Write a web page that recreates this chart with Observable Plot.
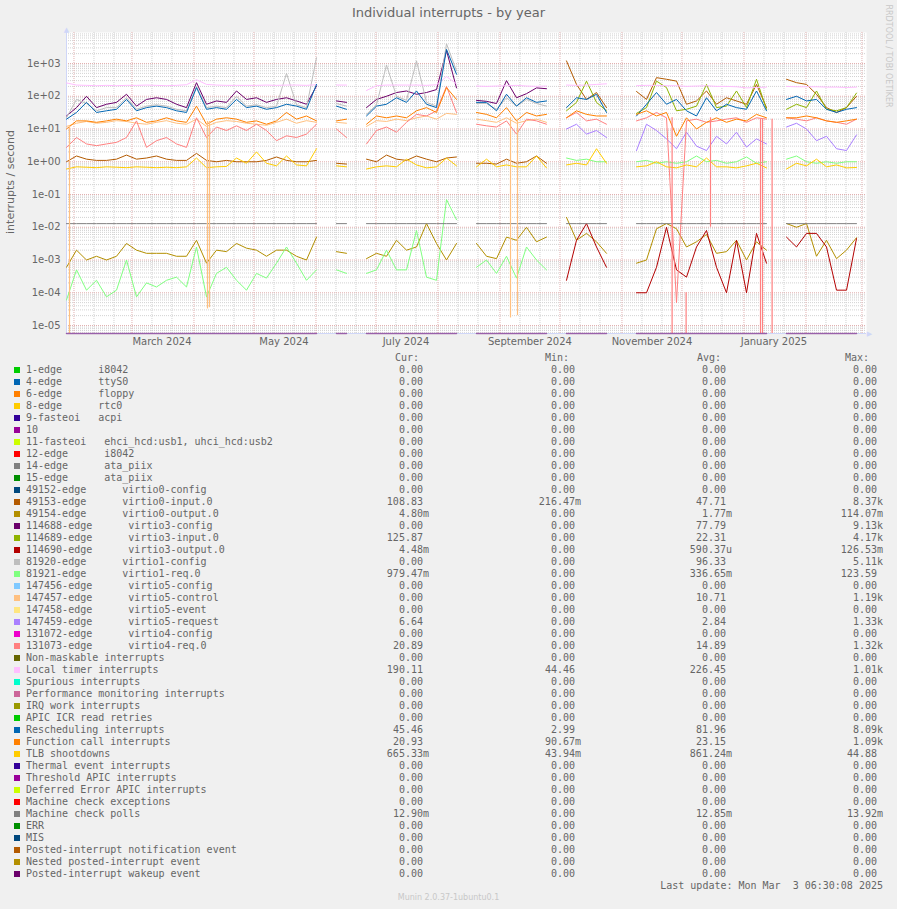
<!DOCTYPE html>
<html><head><meta charset="utf-8">
<script src="https://cdn.jsdelivr.net/npm/d3@7"></script>
<script src="https://cdn.jsdelivr.net/npm/@observablehq/plot@0.6"></script>
<style>
html,body{margin:0;padding:0;background:#f0f0f0;}
#wrap{position:relative;width:897px;height:909px;background:#f0f0f0;overflow:hidden;font-family:"DejaVu Sans",sans-serif;color:#666;}
.abs{position:absolute;white-space:pre;}
.mono{font-family:"DejaVu Sans Mono",monospace;font-size:10px;line-height:12px;color:#666;}
</style></head><body><div id="wrap"></div>
<script>
const _ = null;
// time axis: samples every 5 days from the graph start
const startTime = Date.UTC(2024, 0, 28, 6, 30);
const endTime = Date.UTC(2025, 2, 3, 6, 30);
const stepDays = 5;
const sampleCount = 81;

// series values (interrupts / second), null = no data
const s49153 = [1.0,1.5,1.2,1.1,1.1,1.2,1.6,1.2,1.3,1.5, 1.2,1.1,1.1,1.8,1.1,1.0,1.1,1.0,1.0,1.0, 1.1,1.4,1.1,1.0,1.0,1.1,_,0.9,0.85,_, 1.2,1.0,1.6,1.2,1.1,1.5,1.2,1.0,1.3,1.4, _,0.9,0.9,0.85,1.2,0.9,1.0,1.5,0.9,_, 1200,230,80,130,45,_,_,140,80,370, 330,290,57,72,145,57,90,72,57,230, 45,_,330,260,230,115,45,32,45,100,_];
const s49154 = [6e-4,2e-3,1e-3,1.3e-3,1e-3,1.3e-3,3.2e-3,2e-3,1.6e-3,1.6e-3, 1.6e-3,1.3e-3,1.3e-3,4e-3,8e-4,2e-3,1.8e-3,3.2e-3,2.3e-3,2e-3, 1.3e-3,2e-3,2e-3,1.3e-3,1e-3,5e-3,_,1.8e-3,1.6e-3,_, 1.1e-3,1.6e-3,1.3e-3,4e-3,2e-3,2.5e-3,1.3e-2,3.2e-3,1e-3,3.2e-3, _,3.2e-3,1.3e-3,1.1e-3,5e-3,4e-3,1e-2,3.6e-3,5e-3,_, 2e-2,4e-3,6.5e-3,3.6e-3,1.6e-3,_,_,8e-4,1e-3,9e-3, 1.3e-2,9e-3,2.5e-3,3.6e-3,6e-3,1.6e-3,1.8e-3,4e-3,1e-3,3.6e-3, 2e-3,_,1.3e-2,1e-2,1.3e-2,1.3e-3,4e-3,1.1e-3,2e-3,4.8e-3,_];
const s114688 = [25,45,100,45,57,65,115,50,80,90, 80,57,45,260,57,72,65,145,80,90, 65,80,90,72,57,205,_,72,65,_, 45,80,100,130,145,115,130,160,2500,180, _,75,70,60,300,90,120,180,170,_, _,_,_,_,_,_,_,_,_,_, _,_,_,_,_,_,_,_,_,_, _,_,_,_,_,_,_,_,_,_,_];
const s114689 = [_,_,_,_,_,_,_,_,_,_, _,_,_,_,_,_,_,_,_,_, _,_,_,_,_,_,_,_,_,_, _,_,_,_,_,_,_,_,_,_, _,_,_,_,_,_,_,_,_,_, 36,65,290,65,36,_,_,30,45,290, 184,36,40,50,230,45,50,145,45,330, 40,_,40,57,45,145,40,36,45,125,_];
const s114690 = [_,_,_,_,_,_,_,_,_,_, _,_,_,_,_,_,_,_,_,_, _,_,_,_,_,_,_,_,_,_, _,_,_,_,_,_,_,_,_,_, _,_,_,_,_,_,_,_,_,_, 2.4e-4,4e-3,1.3e-2,2.5e-3,6e-4,_,_,1e-4,1e-4,6e-4, 1e-2,5e-4,3e-4,2.5e-3,8e-3,6e-4,1e-4,4e-3,1e-4,6.5e-3, 8e-4,_,5e-3,2.5e-3,6.5e-3,6.5e-3,2.5e-3,1.2e-4,1.2e-4,4.5e-3,_];
const s81920 = [22,80,60,36,45,45,90,40,50,55, 50,40,36,200,45,50,45,100,50,55, 45,50,500,55,45,1500,_,60,50,_, 28,55,900,100,75,1200,65,50,4000,600, _,60,60,40,90,50,80,60,50,_, _,_,_,_,_,_,_,_,_,_, _,_,_,_,_,_,_,_,_,_, _,_,_,_,_,_,_,_,_,_,_];
const s81921 = [6e-5,5e-4,1.2e-4,2.4e-4,7.5e-5,1.2e-4,1e-3,7.5e-5,2e-4,1.5e-4, 2.4e-4,3e-4,1.5e-4,2.5e-3,7.5e-5,3.9e-4,6e-4,2.4e-4,1.2e-4,3.9e-4, 2.8e-4,8e-4,2.5e-3,8e-4,2.4e-4,5e-4,_,5e-4,3.9e-4,_, 3.9e-4,5e-4,2e-3,5e-4,5e-4,8e-3,3e-4,2.4e-4,7e-2,1.7e-2, _,6e-4,1e-3,3.9e-4,1.3e-3,2.8e-4,2.5e-3,1e-3,5e-4,_, 1.3,1.1,1.2,1.0,1.0,_,_,1.0,1.1,0.9, 1.0,0.9,1.0,1.5,1.0,1.1,0.9,1.0,1.4,0.9, 1.0,_,1.2,1.5,1.0,0.9,1.0,0.9,1.0,1.0,_];
const s147457 = [12,15,17,15,16,18,17,15,14,16, 18,15,14,20,12,16,18,17,15,14, 13,16,20,15,18,16,_,16,15,_, 12,18,17,20,18,22,25,20,30,28, _,20,18,16,22,15,18,20,16,_, _,_,_,_,_,_,_,_,_,_, _,_,_,_,_,_,_,_,_,_, _,_,_,_,_,_,_,_,_,_,_];
const s147459 = [_,_,_,_,_,_,_,_,_,_, _,_,_,_,_,_,_,_,_,_, _,_,_,_,_,_,_,_,_,_, _,_,_,_,_,_,_,_,_,_, _,_,_,_,_,_,_,_,_,_, 10,14,7,9,5.5,_,_,2.2,14,9, 5,2.5,8,3,2.2,6,3.5,8,2.8,5, 3.5,_,11.5,15,10,4.4,6,2.5,2.2,6.6,_];
const s131073 = [2.75,5.5,3.5,3.1,3.5,3.9,5.5,17.7,2.75,4.4, 5.5,3.5,2.75,22,5.5,11.5,9,12.5,9,14, 9,4.4,6.2,5.5,7,14,_,10,5.5,_, 3.5,9,11.5,8,16,28,25,36,200,32, _,14,12.5,11.5,17.7,7,20,17.7,14,_, 22,32,17.7,20,14,_,_,17.7,22,32, 22,5e-5,17.7,20,16,17.7,20,22,16,22, 20,_,22,20,17.7,22,17.7,16,14,20,_];
const sLOC = [255,220,215,210,215,210,215,215,220,215, 210,215,225,320,230,220,215,215,215,215, 220,215,220,220,215,225,_,220,220,_, 150,210,220,220,220,220,215,225,400,240, _,205,200,205,210,215,205,200,205,_, 220,215,220,230,240,_,_,210,215,215, 210,210,200,205,210,200,200,195,180,185, 190,_,200,195,195,195,190,190,185,190,_];
const sRES = [20,32,65,32,36,40,80,36,45,50, 45,36,32,184,40,45,40,80,45,50, 40,45,57,50,40,230,_,50,40,_, 25,50,57,90,65,145,57,45,2700,470, _,65,65,36,115,50,90,65,72,_, 45,90,80,115,32,_,_,25,57,130, 57,80,36,25,90,36,57,45,40,145, 36,_,80,100,72,80,40,32,40,45,_];
const sCAL = [10,17.7,17.7,16,17.7,20,17.7,22,16,17.7, 22,17.7,16,50,14,20,22,20,16,17.7, 14,17.7,32,20,25,17.7,_,17.7,20,_, 14,25,22,25,22,36,45,32,184,80, _,32,28,22,45,17.7,32,25,28,_, 22,36,28,25,25,_,_,28,36,25, 32,6,22,10,16,22,16,20,17.7,28, 22,_,22,22,25,22,17.7,16,17.7,20,_];
const sTLB = [0.6,0.7,0.68,0.66,0.7,0.68,0.66,0.7,0.68,0.66, 0.68,0.66,0.7,1.3,0.66,0.7,0.72,1.3,0.9,2.0, 0.9,0.75,1.5,0.8,0.75,2.5,_,0.75,0.7,_, 0.6,0.7,0.75,0.7,1.2,0.8,0.65,0.7,1.3,0.75, _,0.7,1.2,0.7,0.8,0.7,0.7,1.5,0.65,_, 0.8,0.9,0.8,2.5,0.9,_,_,0.7,0.75,1.0, 0.7,0.65,0.8,0.7,1.3,0.7,0.7,0.65,0.75,0.9, 0.65,_,0.6,0.9,0.75,1.2,0.7,0.8,0.65,0.67,_];
const sMCP = [0.0129,0.0129,0.0129,0.0129,0.0129,0.0129,0.0129,0.0129,0.0129,0.0129, 0.0129,0.0129,0.0129,0.0129,0.0129,0.0129,0.0129,0.0129,0.0129,0.0129, 0.0129,0.0129,0.0129,0.0129,0.0129,0.0129,_,0.0129,0.0129,_, 0.0129,0.0129,0.0129,0.0129,0.0129,0.0129,0.0129,0.0129,0.0129,0.0129, _,0.0129,0.0129,0.0129,0.0129,0.0129,0.0129,0.0129,0.0129,_, 0.0129,0.0129,0.0129,0.0129,0.0129,_,_,0.0129,0.0129,0.0129, 0.0129,0.0129,0.0129,0.0129,0.0129,0.0129,0.0129,0.0129,0.0129,0.0129, 0.0129,_,0.0129,0.0129,0.0129,0.0129,0.0129,0.0129,0.0129,0.0129,_];
const sZero = [0,0,0,0,0,0,0,0,0,0, 0,0,0,0,0,0,0,0,0,0, 0,0,0,0,0,0,_,0,0,_, 0,0,0,0,0,0,0,0,0,0, _,0,0,0,0,0,0,0,0,_, 0,0,0,0,0,_,_,0,0,0, 0,0,0,0,0,0,0,0,0,0, 0,_,0,0,0,0,0,0,0,0,_];

// short drops (day offset from start, from value, to value; 0 = zero)
const dropColor = ["#FFC080","#FFC080","#FFC080","#FFC080","#FFC080","#FF8080","#FF8080","#FF8080","#FF8080","#FF8080","#FF8080"];
const dropDay = [1.5, 70.5, 71.5, 222, 225.5, 302.8, 309.8, 322, 347, 348, 352.8];
const dropHigh = [12, 17, 17, 22, 20, 22, 1e-4, 22, 20, 20, 20];
const dropLow = [0, 3.2e-5, 3.5e-5, 1.7e-5, 2e-5, 0, 0, 0.01, 0, 0, 0];

// legend
const legendNames = ["1-edge      i8042","4-edge      ttyS0","6-edge      floppy","8-edge      rtc0","9-fasteoi   acpi","10","11-fasteoi   ehci_hcd:usb1, uhci_hcd:usb2","12-edge      i8042","14-edge      ata_piix","15-edge      ata_piix","49152-edge      virtio0-config","49153-edge      virtio0-input.0","49154-edge      virtio0-output.0","114688-edge      virtio3-config","114689-edge      virtio3-input.0","114690-edge      virtio3-output.0","81920-edge      virtio1-config","81921-edge      virtio1-req.0","147456-edge      virtio5-config","147457-edge      virtio5-control","147458-edge      virtio5-event","147459-edge      virtio5-request","131072-edge      virtio4-config","131073-edge      virtio4-req.0","Non-maskable interrupts","Local timer interrupts","Spurious interrupts","Performance monitoring interrupts","IRQ work interrupts","APIC ICR read retries","Rescheduling interrupts","Function call interrupts","TLB shootdowns","Thermal event interrupts","Threshold APIC interrupts","Deferred Error APIC interrupts","Machine check exceptions","Machine check polls","ERR","MIS","Posted-interrupt notification event","Nested posted-interrupt event","Posted-interrupt wakeup event"];
const legendColors = ["#00CC00","#0066B3","#FF8000","#FFCC00","#330099","#990099","#CCFF00","#FF0000","#808080","#008F00","#00487D","#B35A00","#B38F00","#6B006B","#8FB300","#B30000","#BEBEBE","#80FF80","#80C9FF","#FFC080","#FFE680","#AA80FF","#EE00CC","#FF8080","#666600","#FFBFFF","#00FFCC","#CC6699","#999900","#00CC00","#0066B3","#FF8000","#FFCC00","#330099","#990099","#CCFF00","#FF0000","#808080","#008F00","#00487D","#B35A00","#B38F00","#6B006B"];
const Z = "0.00";
const legendCur = [Z,Z,Z,Z,Z,Z,Z,Z,Z,Z,Z,"108.83","4.80m",Z,"125.87","4.48m",Z,"979.47m",Z,Z,Z,"6.64",Z,"20.89",Z,"190.11",Z,Z,Z,Z,"45.46","20.93","665.33m",Z,Z,Z,Z,"12.90m",Z,Z,Z,Z,Z];
const legendMin = [Z,Z,Z,Z,Z,Z,Z,Z,Z,Z,Z,"216.47m",Z,Z,Z,Z,Z,Z,Z,Z,Z,Z,Z,Z,Z,"44.46",Z,Z,Z,Z,"2.99","90.67m","43.94m",Z,Z,Z,Z,Z,Z,Z,Z,Z,Z];
const legendAvg = [Z,Z,Z,Z,Z,Z,Z,Z,Z,Z,Z,"47.71","1.77m","77.79","22.31","590.37u","96.33","336.65m",Z,"10.71",Z,"2.84",Z,"14.89",Z,"226.45",Z,Z,Z,Z,"81.96","23.15","861.24m",Z,Z,Z,Z,"12.85m",Z,Z,Z,Z,Z];
const legendMax = [Z,Z,Z,Z,Z,Z,Z,Z,Z,Z,Z,"8.37k","114.07m","9.13k","4.17k","126.53m","5.11k","123.59",Z,"1.19k",Z,"1.33k",Z,"1.32k",Z,"1.01k",Z,Z,Z,Z,"8.09k","1.09k","44.88",Z,Z,Z,Z,"13.92m",Z,Z,Z,Z,Z];
const columnHeads = ["Cur:","Min:","Avg:","Max:"];

// ---- build ----
const DAY = 864e5;
const t0 = new Date(startTime), t1 = new Date(endTime);
const dates = d3.range(sampleCount).map(k => new Date(startTime + k * stepDays * DAY));
const yFloor = 5.7e-6, yTop = 8850;
const yv = v => v == null ? NaN : (v <= 0 ? yFloor : v);

const series = [
  [s49153, "#B35A00"], [s49154, "#B38F00"], [s114688, "#6B006B"], [s114689, "#8FB300"],
  [s114690, "#B30000"], [s81920, "#BEBEBE"], [s81921, "#80FF80"], [s147457, "#FFC080"],
  [s147459, "#AA80FF"], [s131073, "#FF8080"], [sLOC, "#FFBFFF"], [sRES, "#0066B3"],
  [sCAL, "#FF8000"], [sTLB, "#FFCC00"], [sMCP, "#808080"]
];
const lineMarks = series.map(([vals, color]) =>
  Plot.line(vals.map((v, i) => ({date: dates[i], v})), {x: "date", y: d => yv(d.v), stroke: color, strokeWidth: 1, clip: true}));
const drops = dropDay.map((d, i) => ({date: new Date(startTime + d * DAY), hi: dropHigh[i], lo: yv(dropLow[i]), c: dropColor[i]}));

const majorY = d3.range(-5, 4).map(e => Math.pow(10, e));
const minorY = [];
for (let e = -6; e <= 3; e++) for (let m = 2; m <= 9; m++) { const v = m * Math.pow(10, e); if (v > yFloor && v < yTop) minorY.push(v); }
const majorX = d3.utcMonth.range(t0, t1);
const minorX = majorX.flatMap(m => [10, 20].map(o => d3.utcDay.offset(m, o))).filter(d => d < t1);
const labelDates = majorX.filter(m => [2, 4, 6, 8, 10, 0].includes(m.getUTCMonth())).map(m => d3.utcDay.offset(m, 15)).filter(d => d < t1);
const fmtExp = d => { const e = Math.round(Math.log10(d)); return "1e" + (e < 0 ? "-" : "+") + String(Math.abs(e)).padStart(2, "0"); };

const chart = Plot.plot({
  width: 897, height: 352,
  marginLeft: 66, marginRight: 31, marginTop: 32, marginBottom: 19,
  style: {background: "transparent", color: "#666", fontFamily: '"DejaVu Sans", sans-serif', fontSize: "10px", overflow: "visible"},
  x: {type: "utc", domain: [t0, t1], ticks: labelDates, tickFormat: d3.utcFormat("%B %Y"), tickSize: 0, tickPadding: 4, label: null},
  y: {type: "log", domain: [yFloor, yTop], ticks: majorY, tickFormat: fmtExp, tickSize: 0, tickPadding: 6, label: null},
  marks: [
    Plot.frame({fill: "white", stroke: "none"}),
    Plot.ruleY(minorY, {stroke: "#d2d2d2", strokeDasharray: "1,1"}),
    Plot.ruleX(minorX, {stroke: "#d2d2d2", strokeDasharray: "1,1"}),
    Plot.ruleY(majorY, {stroke: "#e2b0b0", strokeDasharray: "1,1"}),
    Plot.ruleX(majorX, {stroke: "#e2b0b0", strokeDasharray: "1,1"}),
    Plot.ruleX([t0], {stroke: "#CFD6F8", y1: yFloor, y2: yTop}),
    Plot.ruleY([yFloor], {stroke: "#CFD6F8"}),
    Plot.text([0], {x: () => t0, y: () => yTop, text: () => "▲", fill: "#CFD6F8", fontSize: 7, dy: -3}),
    Plot.text([0], {x: () => t1, y: () => yFloor, text: () => "▶", fill: "#CFD6F8", fontSize: 7, dx: 3}),
    ...lineMarks,
    Plot.ruleX(drops, {x: "date", y1: "hi", y2: "lo", stroke: "c", strokeWidth: 1.2, clip: true}),
    Plot.line(sZero.map((v, i) => ({date: dates[i], v})), {x: "date", y: d => yv(d.v), stroke: "#6B006B", strokeOpacity: 0.55, strokeWidth: 1.5})
  ]
});
chart.style.position = "absolute";
chart.style.left = "0px";
chart.style.top = "0px";

const wrap = document.getElementById("wrap");
wrap.appendChild(chart);

function addDiv(html, css, cls) {
  const d = document.createElement("div");
  d.className = "abs " + (cls || "");
  d.textContent = html;
  Object.assign(d.style, css);
  wrap.appendChild(d);
  return d;
}
addDiv("Individual interrupts - by year", {left: "0px", width: "897px", top: "5px", textAlign: "center", fontSize: "13px", lineHeight: "16px", color: "#666"});
addDiv("interrupts / second", {left: "11px", top: "182px", fontSize: "11px", lineHeight: "12px", transform: "translate(-50%,-50%) rotate(-90deg)", color: "#666"});
addDiv("RRDTOOL / TOBI OETIKER", {left: "888px", top: "56px", fontSize: "8px", lineHeight: "9px", transform: "translate(-50%,-50%) rotate(90deg)", color: "#c8c8c8"});
addDiv("Munin 2.0.37-1ubuntu0.1", {left: "0px", width: "897px", top: "893px", textAlign: "center", fontSize: "8px", lineHeight: "10px", color: "#c8c8c8"});

const colRight = [429, 581, 732, 883];
const headLeft = [395, 545, 697, 845];
columnHeads.forEach((h, j) => addDiv(h, {left: headLeft[j] + "px", top: "352px"}, "mono"));
const unitStr = s => /[a-z]$/i.test(s) ? s : s + " ";
legendNames.forEach((name, i) => {
  const cy = 369.7 + 12 * i;
  const sw = document.createElement("div");
  Object.assign(sw.style, {position: "absolute", left: "14px", top: (cy - 3) + "px", width: "6px", height: "6px", background: legendColors[i]});
  wrap.appendChild(sw);
  addDiv(name, {left: "26px", top: (cy - 6) + "px"}, "mono");
  [legendCur, legendMin, legendAvg, legendMax].forEach((arr, j) => {
    addDiv(unitStr(arr[i]), {left: (colRight[j] - 120) + "px", width: "120px", textAlign: "right", top: (cy - 6) + "px"}, "mono");
  });
});
addDiv("Last update: Mon Mar  3 06:30:08 2025", {left: "583px", width: "300px", textAlign: "right", top: (885.7 - 6) + "px"}, "mono");
</script>
</body></html>
